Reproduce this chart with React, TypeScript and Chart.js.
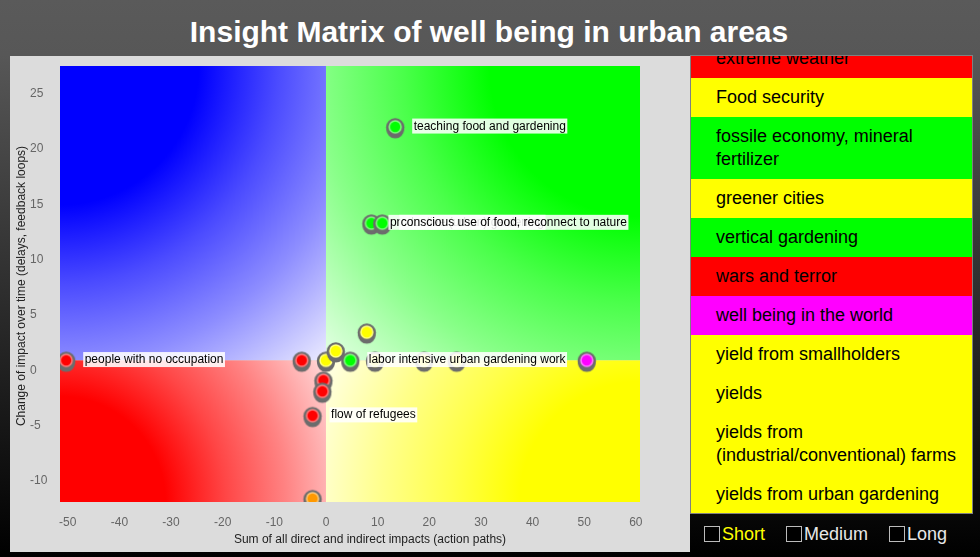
import React, { useEffect, useRef } from "react";
import { Chart, registerables } from "chart.js";

Chart.register(...registerables);

const FONT = "'Liberation Sans', Arial, Helvetica, sans-serif";

const chartTitle = "Insight Matrix of well being in urban areas";
const xAxisTitle = "Sum of all direct and indirect impacts (action paths)";
const yAxisTitle = "Change of impact over time (delays, feedback loops)";

const xTickValues = [-50, -40, -30, -20, -10, 0, 10, 20, 30, 40, 50, 60];
const yTickValues = [-10, -5, 0, 5, 10, 15, 20, 25];

// points, in drawing order
const pointX = [-50.3, -4.7, 0, 1.9, 4.7, 9.5, 19, 25.3, 7.9, 50.5, -0.5, -0.7, -2.6, -2.6, 13.4, 8.8, 10.9];
const pointY = [0, 0, 0, 0.85, 0, 0, 0, 0, 2.55, 0, -1.8, -2.8, -5, -12.5, 21.1, 12.4, 12.4];
const pointColors = [
  "#ff0000", "#ff0000", "#ffff00", "#ffff00", "#00ff00", "#ffff00", "#ffff00", "#ffff00",
  "#ffff00", "#ff00ff", "#ff0000", "#ff0000", "#ff0000", "#ff9900", "#00ff00", "#00ff00", "#00ff00",
];
const pointLabels = [
  "people with no occupation", "", "", "", "labor intensive urban gardening work", "", "", "",
  "", "", "", "", "flow of refugees", "", "teaching food and gardening",
  "productive (urban) gardening", "conscious use of food, reconnect to nature",
];

const legendLabels = [
  "extreme weather",
  "Food security",
  "fossile economy, mineral\nfertilizer",
  "greener cities",
  "vertical gardening",
  "wars and terror",
  "well being in the world",
  "yield from smallholders",
  "yields",
  "yields from\n(industrial/conventional) farms",
  "yields from urban gardening",
];
const legendColors = [
  "#ff0000", "#ffff00", "#00ff00", "#ffff00", "#00ff00", "#ff0000",
  "#ff00ff", "#ffff00", "#ffff00", "#ffff00", "#ffff00",
];

const durationLabels = ["Short", "Medium", "Long"];
const durationColors = ["#ffff00", "#e8e8e8", "#e8e8e8"];

function makeMarker(color: string): HTMLCanvasElement {
  const c = document.createElement("canvas");
  c.width = 28;
  c.height = 28;
  const g = c.getContext("2d")!;
  g.fillStyle = "#6c6c6c";
  g.beginPath();
  g.arc(14, 14.5, 9.2, 0, Math.PI * 2);
  g.fill();
  g.beginPath();
  g.arc(14, 16.8, 8.8, 0, Math.PI * 2);
  g.fill();
  g.fillStyle = color;
  g.beginPath();
  g.arc(14, 14, 6.6, 0, Math.PI * 2);
  g.fill();
  g.strokeStyle = "rgba(255,255,255,0.5)";
  g.lineWidth = 1.5;
  g.beginPath();
  g.arc(14, 14, 5.9, 0, Math.PI * 2);
  g.stroke();
  return c;
}

function lerp(a: number[], b: number[], t: number) {
  return `rgb(${a.map((v, i) => Math.round(v + (b[i] - v) * t)).join(",")})`;
}

const quadrantPlugin = {
  id: "quadrants",
  beforeDatasetsDraw(chart: any) {
    const { ctx, chartArea: a, scales } = chart;
    const cx = scales.x.getPixelForValue(0);
    const cy = scales.y.getPixelForValue(0);
    const quads = [
      { x0: a.left, y0: a.top, x1: cx, y1: cy, ox: a.left, oy: a.top, c: [0, 0, 255], l: [235, 235, 255] },
      { x0: cx, y0: a.top, x1: a.right, y1: cy, ox: a.right, oy: a.top, c: [0, 255, 0], l: [230, 255, 230] },
      { x0: a.left, y0: cy, x1: cx, y1: a.bottom, ox: a.left, oy: a.bottom, c: [255, 0, 0], l: [255, 218, 218] },
      { x0: cx, y0: cy, x1: a.right, y1: a.bottom, ox: a.right, oy: a.bottom, c: [255, 255, 0], l: [255, 255, 232] },
    ];
    ctx.save();
    for (const q of quads) {
      const w = q.x1 - q.x0;
      const h = q.y1 - q.y0;
      const diag = Math.hypot(w, h);
      const g = ctx.createRadialGradient(q.ox, q.oy, 0, q.ox, q.oy, diag);
      g.addColorStop(0, lerp(q.c, q.l, 0));
      g.addColorStop(0.35, lerp(q.c, q.l, 0));
      g.addColorStop(0.55, lerp(q.c, q.l, 0.32));
      g.addColorStop(0.75, lerp(q.c, q.l, 0.6));
      g.addColorStop(1, lerp(q.c, q.l, 1));
      ctx.fillStyle = g;
      ctx.fillRect(q.x0, q.y0, w, h);
    }
    ctx.restore();
  },
};

const labelPlugin = {
  id: "pointLabels",
  afterDatasetsDraw(chart: any) {
    const { ctx, scales } = chart;
    ctx.save();
    ctx.font = `12px ${FONT}`;
    ctx.textBaseline = "middle";
    ctx.textAlign = "left";
    pointLabels.forEach((label, i) => {
      if (!label) return;
      const px = scales.x.getPixelForValue(pointX[i]);
      const py = scales.y.getPixelForValue(pointY[i]);
      const w = ctx.measureText(label).width;
      ctx.fillStyle = "rgba(255,255,255,0.88)";
      ctx.fillRect(px + 17, py - 8.3, w + 3, 15);
      ctx.fillStyle = "#000";
      ctx.fillText(label, px + 18.5, py - 0.5);
    });
    ctx.restore();
  },
};

const axisTitlePlugin = {
  id: "axisTitles",
  afterDraw(chart: any) {
    const { ctx, chartArea: a } = chart;
    ctx.save();
    ctx.font = `12px ${FONT}`;
    ctx.fillStyle = "#222";
    ctx.textAlign = "center";
    ctx.textBaseline = "middle";
    ctx.fillText(xAxisTitle, (a.left + a.right) / 2 + 20, 484);
    ctx.translate(11.5, (a.top + a.bottom) / 2 + 2);
    ctx.rotate(-Math.PI / 2);
    ctx.fillText(yAxisTitle, 0, 0);
    ctx.restore();
  },
};

export default function App() {
  const ref = useRef<HTMLCanvasElement | null>(null);

  useEffect(() => {
    if (!ref.current) return;
    Chart.defaults.font.family = FONT;
    const markers = pointColors.map((c) => makeMarker(c));
    const chart = new Chart(ref.current, {
      type: "scatter",
      data: {
        datasets: [
          {
            data: pointX.map((x, i) => ({ x, y: pointY[i] })),
            pointStyle: markers as any,
            pointRadius: 9,
            showLine: false,
          },
        ],
      },
      options: {
        responsive: false,
        animation: false,
        layout: { padding: { left: 20, top: 9, right: 50, bottom: 0 } },
        plugins: { legend: { display: false }, tooltip: { enabled: false } },
        scales: {
          x: {
            type: "linear",
            min: -51.5,
            max: 60.8,
            grid: { display: false, drawTicks: false },
            border: { display: false },
            ticks: { color: "#666", font: { size: 12 }, padding: 13, maxRotation: 0, autoSkip: false },
            afterBuildTicks: (s: any) => {
              s.ticks = xTickValues.map((v) => ({ value: v }));
            },
            afterFit: (s: any) => {
              s.height = 50;
            },
          },
          y: {
            type: "linear",
            min: -12.8,
            max: 26.6,
            grid: { display: false, drawTicks: false },
            border: { display: false },
            ticks: { color: "#666", font: { size: 12 }, padding: 0, crossAlign: "far", labelOffset: 10, autoSkip: false },
            afterBuildTicks: (s: any) => {
              s.ticks = yTickValues.map((v) => ({ value: v }));
            },
            afterFit: (s: any) => {
              s.width = 30;
            },
          },
        },
      },
      plugins: [quadrantPlugin, labelPlugin, axisTitlePlugin],
    });
    return () => chart.destroy();
  }, []);

  return (
    <div
      style={{
        position: "absolute",
        left: 0,
        top: 0,
        width: 980,
        height: 557,
        overflow: "hidden",
        background: "linear-gradient(to bottom, #5a5a5a 0px, #575757 55px, #000000 557px)",
        fontFamily: FONT,
      }}
    >
      <div
        style={{
          position: "absolute",
          left: 0,
          top: 17,
          width: 978,
          textAlign: "center",
          color: "#fff",
          fontWeight: "bold",
          fontSize: 30,
          lineHeight: "30px",
          whiteSpace: "nowrap",
        }}
      >
        {chartTitle}
      </div>
      <div style={{ position: "absolute", left: 10, top: 56, width: 680, height: 496, background: "#dcdcdc" }}>
        <canvas ref={ref} width={680} height={496} style={{ display: "block", width: 680, height: 496 }} />
      </div>
      <div
        style={{
          position: "absolute",
          left: 690,
          top: 55,
          width: 283,
          height: 459,
          boxSizing: "border-box",
          border: "1px solid #808080",
          overflow: "hidden",
          background: "#ffff00",
        }}
      >
        <div style={{ marginTop: -17 }}>
          {legendLabels.map((l, i) => (
            <div
              key={i}
              style={{
                background: legendColors[i],
                padding: "8px 4px 8px 25px",
                fontSize: 18,
                lineHeight: "23px",
                color: "#000",
                whiteSpace: "pre",
              }}
            >
              {l}
            </div>
          ))}
        </div>
      </div>
      {durationLabels.map((d, i) => {
        const boxLeft = [704, 786, 889][i];
        return (
          <React.Fragment key={d}>
            <div
              style={{
                position: "absolute",
                left: boxLeft,
                top: 526,
                width: 16,
                height: 16,
                boxSizing: "border-box",
                border: "1px solid #bbbbbb",
                background: "#000",
              }}
            />
            <div
              style={{
                position: "absolute",
                left: boxLeft + 18,
                top: 525,
                fontSize: 18,
                lineHeight: "18px",
                color: durationColors[i],
                whiteSpace: "nowrap",
              }}
            >
              {d}
            </div>
          </React.Fragment>
        );
      })}
    </div>
  );
}
